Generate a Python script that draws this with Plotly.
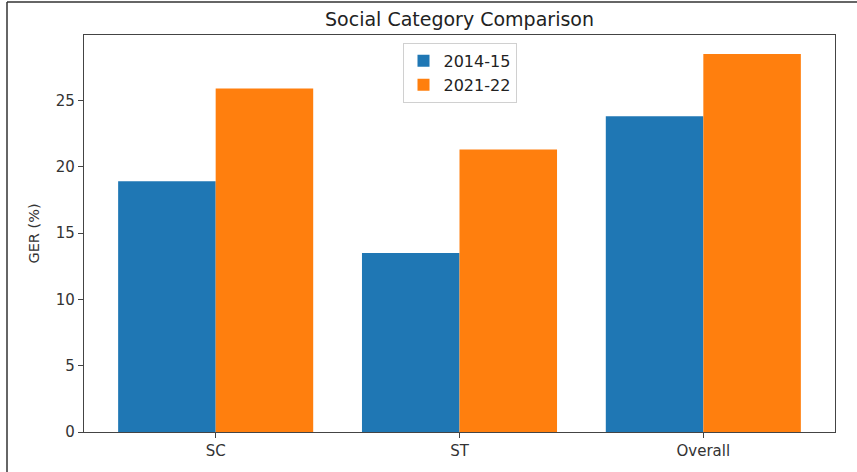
import plotly.graph_objects as go

# GER by social category
categories = ["SC", "ST", "Overall"]
years = ["2014-15", "2021-22"]
ger_2014_15 = [18.9, 13.5, 23.8]
ger_2021_22 = [25.9, 21.3, 28.5]
y_ticks = [0, 5, 10, 15, 20, 25]

colors = ["#1f77b4", "#ff7f0e"]
font_family = "DejaVu Sans"

fig = go.Figure()
for name, vals, col in zip(years, [ger_2014_15, ger_2021_22], colors):
    fig.add_trace(go.Bar(
        x=categories, y=vals, name=name,
        marker=dict(color=col, line=dict(width=0)),
    ))

W, H = 857, 472
ml, mr, mt, mb = 84, 22, 35, 40
pw, ph = W - ml - mr, H - mt - mb

ymax = max(ger_2014_15 + ger_2021_22) * 1.05

fig.update_layout(
    width=W, height=H,
    margin=dict(l=ml, r=mr, t=mt, b=mb, pad=0),
    paper_bgcolor="white", plot_bgcolor="white",
    font=dict(family=font_family, color="#333333"),
    barmode="group", bargap=0.2, bargroupgap=0,
    title=dict(
        text="Social Category Comparison",
        x=(ml + pw / 2) / W, xanchor="center",
        y=1 - 19 / H, yanchor="middle",
        font=dict(size=19, color="#222222"),
    ),
    legend=dict(
        x=0.5, xanchor="center", y=0.98, yanchor="top",
        bgcolor="rgba(255,255,255,0.85)",
        bordercolor="#d0d0d0", borderwidth=1,
        font=dict(size=16, color="#222222"),
        itemwidth=30, tracegroupgap=0,
    ),
    xaxis=dict(
        range=[-0.54, 2.54],
        showline=True, linecolor="#444444", linewidth=1.3, mirror=True,
        ticks="outside", ticklen=5, tickcolor="#444444",
        tickfont=dict(size=15, color="#333333"),
        showgrid=False, zeroline=False,
    ),
    yaxis=dict(
        range=[0, ymax],
        tickvals=y_ticks,
        showline=True, linecolor="#444444", linewidth=1.3, mirror=True,
        ticks="outside", ticklen=5, tickcolor="#444444",
        tickfont=dict(size=15, color="#333333"),
        showgrid=False, zeroline=False,
        title=dict(text="GER (%)", font=dict(size=14.5, color="#333333"), standoff=12),
    ),
)

# thin frame along the top and left edges of the page
x_left = (7 - ml) / pw
y_top = 1 + (mt - 2) / ph
y_bot = -(mb) / ph
fig.add_shape(type="line", xref="paper", yref="paper",
              x0=x_left, x1=(W - ml) / pw, y0=y_top, y1=y_top,
              line=dict(color="#333333", width=1.5))
fig.add_shape(type="line", xref="paper", yref="paper",
              x0=x_left, x1=x_left, y0=y_top, y1=y_bot,
              line=dict(color="#333333", width=1.5))

fig.write_html("out.html")
